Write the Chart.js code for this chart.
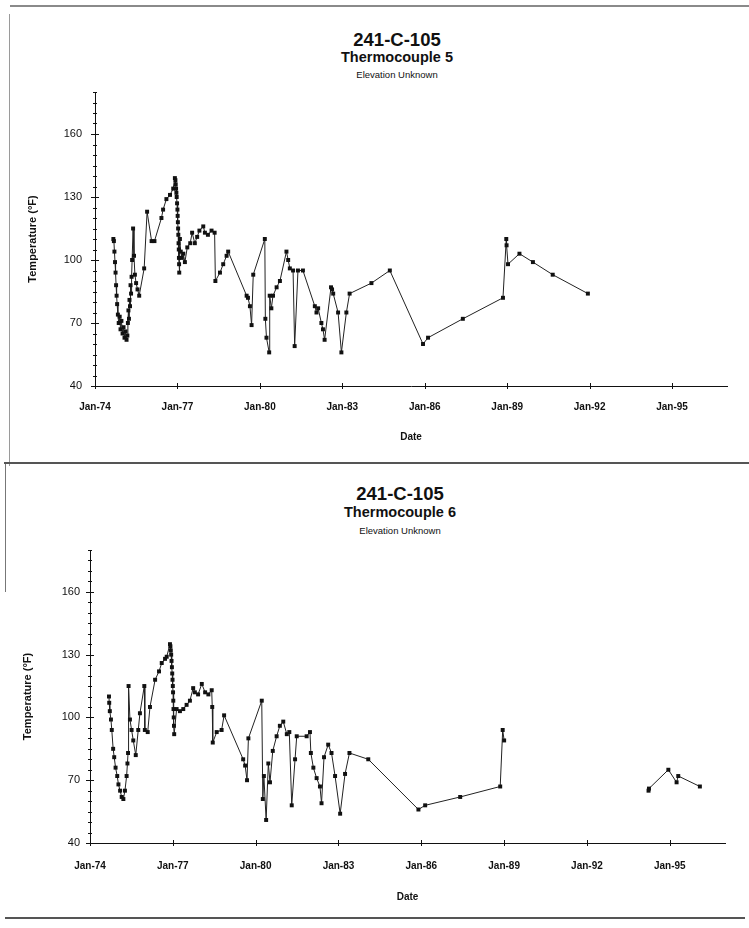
<!DOCTYPE html>
<html>
<head>
<meta charset="utf-8">
<title>241-C-105 Thermocouples 5 and 6</title>
<script src="https://cdn.jsdelivr.net/npm/chart.js@4/dist/chart.umd.min.js"></script>
<style>
  html, body { margin: 0; padding: 0; background: #fff; }
  #page { position: relative; width: 749px; height: 928px; overflow: hidden; background: #fff;
          font-family: "Liberation Sans", Arial, sans-serif; color: #111; }
  .rule { position: absolute; background: #6a6a6a; }
  .t { position: absolute; white-space: nowrap; text-align: center; transform: translateX(-50%); }
  .t1 { font-weight: bold; font-size: 18.5px; line-height: 19px; }
  .t2 { font-weight: bold; font-size: 14.5px; line-height: 15px; }
  .t3 { font-size: 9.5px; line-height: 10px; }
  canvas { position: absolute; left: 0; }
</style>
</head>
<body>
<div id="page">
  <div class="rule" style="left:10px; top:5px; width:739px; height:2px; background:#8a8a8a;"></div>
  <div class="rule" style="left:9px; top:14px; width:1px; height:452px; background:#9a9a9a;"></div>
  <div class="rule" style="left:4px; top:462px; width:745px; height:2px; background:#555;"></div>
  <div class="rule" style="left:5px; top:464px; width:1px; height:128px; background:#777;"></div>
  <div class="rule" style="left:5px; top:917px; width:740px; height:2px; background:#555;"></div>

  <div class="t t1" style="left:397px; top:30px;">241-C-105</div>
  <div class="t t2" style="left:397px; top:50px;">Thermocouple 5</div>
  <div class="t t3" style="left:397px; top:70px;">Elevation Unknown</div>

  <div class="t t1" style="left:400px; top:484px;">241-C-105</div>
  <div class="t t2" style="left:400px; top:505px;">Thermocouple 6</div>
  <div class="t t3" style="left:400px; top:526px;">Elevation Unknown</div>

  <canvas id="tc5" width="749" height="462" style="top:0;"></canvas>
  <canvas id="tc6" width="749" height="466" style="top:462px;"></canvas>
</div>
<script>
// Thermocouple 5 readings (deg F)
const tc5Dates = [
  '1974-09-02','1974-09-09','1974-09-16','1974-09-24','1974-10-01','1974-10-08','1974-10-15','1974-10-22',
  '1974-11-01','1974-11-12','1974-11-25','1974-12-06','1974-12-18','1975-01-02','1975-01-15','1975-01-28',
  '1975-02-10','1975-02-24','1975-03-07','1975-03-14','1975-03-21','1975-03-28','1975-04-04','1975-04-11',
  '1975-04-18','1975-04-25','1975-05-02','1975-05-09','1975-05-22','1975-06-03','1975-06-15','1975-07-01',
  '1975-07-20','1975-08-11','1975-10-16','1975-11-24','1976-01-23','1976-03-01','1976-06-02','1976-06-24',
  '1976-08-07','1976-09-24','1976-11-06','1976-11-28','1976-12-05','1976-12-09','1976-12-14','1976-12-18',
  '1976-12-22','1976-12-27','1977-01-01','1977-01-04','1977-01-07','1977-01-10','1977-01-13','1977-01-16',
  '1977-01-19','1977-01-21','1977-01-23','1977-01-25','1977-02-03','1977-02-14','1977-03-01','1977-03-20',
  '1977-04-10','1977-05-12','1977-06-20','1977-07-15','1977-08-20','1977-09-20','1977-10-20','1977-12-10',
  '1978-01-01','1978-02-10','1978-03-30','1978-05-10','1978-05-20','1978-07-20','1978-09-01','1978-10-16',
  '1978-11-06','1979-07-09','1979-07-27','1979-08-22','1979-09-13','1979-10-05','1980-03-07','1980-03-14',
  '1980-03-29','1980-05-04','1980-05-11','1980-06-02','1980-06-24','1980-08-11','1980-09-24','1980-12-20',
  '1981-01-12','1981-02-03','1981-03-18','1981-04-08','1981-05-22','1981-07-27','1982-01-01','1982-01-23',
  '1982-02-14','1982-03-29','1982-04-19','1982-05-11','1982-08-04','1982-08-18','1982-09-02','1982-11-06',
  '1982-12-20','1983-02-24','1983-04-08','1984-01-23','1984-09-24','1985-12-09','1986-02-14','1987-05-22',
  '1988-11-06','1988-12-20','1988-12-24','1989-01-12','1989-06-13','1989-12-09','1990-08-29','1991-12-09'
];
const tc5Temps = [
  110, 109, 104, 99, 94, 88, 83, 79,
  74, 70, 73, 67, 71, 65, 68, 63,
  66, 62, 64, 70, 76, 72, 81, 78,
  88, 84, 92, 100, 115, 102, 93, 89,
  86, 83, 96, 123, 109, 109, 120, 124,
  129, 131, 134, 139, 138, 136, 134, 132,
  130, 127, 124, 121, 118, 115, 112, 108,
  105, 101, 98, 94, 110, 104, 101, 103,
  99, 106, 108, 113, 108, 111, 114, 116,
  113, 112, 114, 113, 90, 94, 98, 102,
  104, 83, 82, 78, 69, 93, 110, 72,
  63, 56, 83, 77, 83, 87, 90, 104,
  100, 96, 95, 59, 95, 95, 78, 75,
  77, 70, 67, 62, 87, 86, 84, 75,
  56, 75, 84, 89, 95, 60, 63, 72,
  82, 110, 107, 98, 103, 99, 93, 84
];

// Thermocouple 6 readings (deg F); null marks the gap in records
const tc6Dates = [
  '1974-09-09','1974-09-12','1974-09-20','1974-10-05','1974-10-16','1974-11-03','1974-11-17','1974-12-05',
  '1974-12-27','1975-01-12','1975-02-03','1975-02-24','1975-03-18','1975-04-08','1975-04-30','1975-05-11',
  '1975-05-19','1975-05-26','1975-06-13','1975-07-05','1975-07-27','1975-08-29','1975-10-01','1975-10-23',
  '1975-12-20','1975-12-27','1976-02-03','1976-03-04','1976-05-11','1976-07-02','1976-08-07','1976-09-20',
  '1976-10-12','1976-11-24','1976-11-30','1976-12-05','1976-12-10','1976-12-15','1976-12-20','1976-12-24',
  '1976-12-28','1977-01-01','1977-01-04','1977-01-07','1977-01-10','1977-01-13','1977-01-16','1977-01-19',
  '1977-02-20','1977-04-05','1977-05-19','1977-07-02','1977-08-15','1977-09-27','1977-10-19','1977-12-01',
  '1978-01-19','1978-03-04','1978-04-16','1978-05-30','1978-06-06','1978-06-13','1978-08-04','1978-10-08',
  '1978-11-10','1979-07-20','1979-08-15','1979-09-09','1979-09-27','1980-03-22','1980-04-05','1980-04-19',
  '1980-05-19','1980-06-17','1980-07-09','1980-08-15','1980-10-05','1980-11-17','1981-01-01','1981-02-17',
  '1981-03-22','1981-04-23','1981-06-06','1981-06-28','1981-11-06','1981-12-20','1982-01-01','1982-02-03',
  '1982-03-18','1982-05-01','1982-05-22','1982-06-24','1982-08-18','1982-10-01','1982-11-17','1983-01-23',
  '1983-03-29','1983-05-26','1984-01-30','1985-11-24','1986-02-21','1987-05-30','1988-11-10','1988-12-13',
  '1989-01-01','1991-06-01','1994-03-26','1994-04-01','1994-12-13','1995-04-01','1995-04-23','1996-02-03'
];
const tc6Temps = [
  110, 107, 103, 99, 94, 85, 81, 76,
  72, 68, 65, 62, 61, 65, 72, 78,
  83, 115, 99, 94, 89, 82, 94, 102,
  115, 94, 93, 105, 118, 122, 126, 128,
  129, 135, 134, 132, 130, 127, 124, 121,
  118, 115, 112, 108, 104, 100, 96, 92,
  104, 103, 104, 106, 108, 114, 112, 111,
  116, 112, 111, 113, 105, 88, 93, 94,
  101, 80, 77, 70, 90, 108, 61, 72,
  51, 78, 69, 84, 91, 96, 98, 92,
  93, 58, 80, 91, 91, 93, 83, 76,
  71, 67, 59, 81, 87, 83, 72, 54,
  73, 83, 80, 56, 58, 62, 67, 94,
  89, null, 65, 66, 75, 69, 72, 67
];

const yearTicks = [1974, 1977, 1980, 1983, 1986, 1989, 1992, 1995];
const tempTicks = [40, 70, 100, 130, 160];

const FONT = '"Liberation Sans", Arial, sans-serif';

// date string -> fractional year for the linear time axis
function toYear(s) {
  const y = +s.slice(0, 4);
  const d = Date.UTC(y, +s.slice(5, 7) - 1, +s.slice(8, 10));
  const a = Date.UTC(y, 0, 1), b = Date.UTC(y + 1, 0, 1);
  return y + (d - a) / (b - a);
}

function points(dates, temps) {
  return dates.map((d, i) => ({ x: toYear(d), y: temps[i] }));
}

// tick marks that cross the axis lines, with minor marks every 5 deg on the y axis
const crossTicks = {
  id: 'crossTicks',
  afterDraw(chart) {
    const { ctx } = chart;
    const x = chart.scales.x, y = chart.scales.y;
    ctx.save();
    ctx.strokeStyle = '#111';
    ctx.lineWidth = 1;
    ctx.beginPath();
    for (let v = y.min; v <= y.max; v += 5) {
      const py = Math.round(y.getPixelForValue(v)) + 0.5;
      const len = tempTicks.includes(v) ? 4 : 2;
      ctx.moveTo(x.left - len, py);
      ctx.lineTo(x.left + len, py);
    }
    yearTicks.forEach(v => {
      const px = Math.round(x.getPixelForValue(v)) + 0.5;
      ctx.moveTo(px, y.bottom - 3);
      ctx.lineTo(px, y.bottom + 3);
    });
    ctx.stroke();
    ctx.restore();
  }
};

function makeChart(id, dates, temps, g) {
  return new Chart(document.getElementById(id), {
    type: 'line',
    data: {
      datasets: [{
        data: points(dates, temps),
        borderColor: '#222',
        borderWidth: 1,
        pointStyle: 'rect',
        pointRadius: 2.8,
        pointBackgroundColor: '#111',
        pointBorderWidth: 0,
        tension: 0,
        spanGaps: false
      }]
    },
    options: {
      responsive: false,
      devicePixelRatio: 1,
      animation: false,
      layout: { padding: { top: g.top, right: g.right, left: 0, bottom: 0 } },
      plugins: { legend: { display: false }, tooltip: { enabled: false } },
      scales: {
        x: {
          type: 'linear',
          min: 1974,
          max: 1997,
          afterFit: s => { s.height = g.xHeight; },
          afterBuildTicks: s => { s.ticks = yearTicks.map(v => ({ value: v })); },
          grid: { display: true, drawOnChartArea: false, drawTicks: false },
          border: { display: true, color: '#111', width: 1 },
          ticks: {
            autoSkip: false,
            maxRotation: 0,
            padding: g.xPad,
            color: '#111',
            font: { family: FONT, size: 10, weight: 'bold' },
            callback: v => 'Jan-' + String(v).slice(2)
          },
          title: {
            display: true,
            text: 'Date',
            color: '#111',
            font: { family: FONT, size: 10, weight: 'bold' },
            padding: { top: 0, bottom: g.dateBottom }
          }
        },
        y: {
          min: 40,
          max: 180,
          afterFit: s => { s.width = g.left; },
          afterBuildTicks: s => { s.ticks = tempTicks.map(v => ({ value: v })); },
          grid: { display: true, drawOnChartArea: false, drawTicks: false },
          border: { display: true, color: '#111', width: 1 },
          ticks: {
            padding: g.left - g.labelRight,
            color: '#111',
            font: { family: FONT, size: 11 }
          },
          title: {
            display: true,
            text: 'Temperature (\u00B0F)',
            color: '#111',
            font: { family: FONT, size: 11, weight: 'bold' },
            padding: { top: g.titleX, bottom: 2 }
          }
        }
      }
    },
    plugins: [crossTicks]
  });
}

makeChart('tc5', tc5Dates, tc5Temps,
  { top: 92, right: 22, left: 95, xHeight: 76, xPad: 15, dateBottom: 19, labelRight: 82, titleX: 26 });
makeChart('tc6', tc6Dates, tc6Temps,
  { top: 88, right: 24, left: 90, xHeight: 85, xPad: 17, dateBottom: 25, labelRight: 80, titleX: 21 });
</script>
</body>
</html>
